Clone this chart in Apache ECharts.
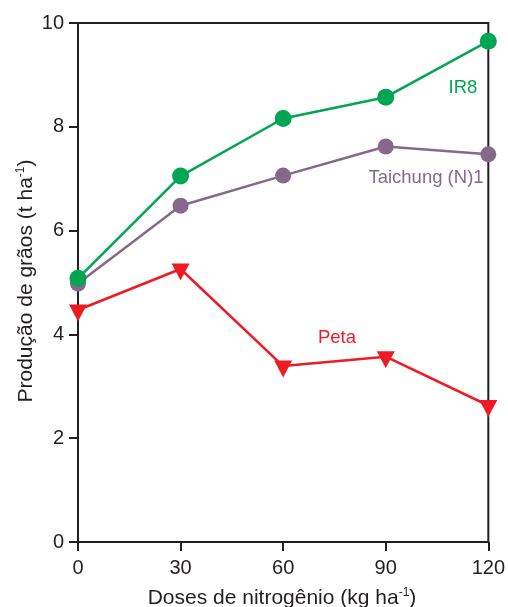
<!DOCTYPE html>
<html>
<head>
<meta charset="utf-8">
<script src="https://cdn.jsdelivr.net/npm/echarts@6/dist/echarts.min.js"></script>
<style>html,body{margin:0;padding:0;background:#fff}#c{width:508px;height:607px}</style>
</head>
<body>
<div id="c"></div>
<script>
var doses = [0, 30, 60, 90, 120];
var ir8 = [5.08, 7.05, 8.16, 8.57, 9.65];
var taichung = [4.98, 6.48, 7.06, 7.62, 7.47];
var peta = [4.47, 5.26, 3.39, 3.57, 2.63];
var xTicks = [0, 30, 60, 90, 120];
var yTicks = [0, 2, 4, 6, 8, 10];

var FONT = '"Liberation Sans", Arial, sans-serif';
var INK = '#231f20';
var GREEN = '#00a651';
var PURPLE = '#86698a';
var RED = '#ed1c24';

function pairs(v) { return doses.map(function (d, i) { return [d, v[i]]; }); }

var chart = echarts.init(document.getElementById('c'), null, {renderer: 'canvas'});
chart.setOption({
  animation: false,
  backgroundColor: '#fff',
  textStyle: {fontFamily: FONT},
  grid: {left: 78, right: 17, top: 23, bottom: 65, show: true, borderColor: INK, borderWidth: 2, backgroundColor: 'transparent'},
  xAxis: {
    type: 'value', min: xTicks[0], max: xTicks[xTicks.length - 1], interval: 30,
    splitLine: {show: false},
    axisLine: {lineStyle: {color: INK, width: 2}},
    axisTick: {show: true, inside: false, length: 9, lineStyle: {color: INK, width: 2}},
    axisLabel: {color: INK, fontSize: 20, fontFamily: FONT, margin: 16}
  },
  yAxis: {
    type: 'value', min: yTicks[0], max: yTicks[yTicks.length - 1], interval: 2,
    splitLine: {show: false},
    axisLine: {show: true, lineStyle: {color: INK, width: 2}},
    axisTick: {show: true, inside: false, length: 9, lineStyle: {color: INK, width: 2}},
    axisLabel: {color: INK, fontSize: 20, fontFamily: FONT, margin: 14}
  },
  graphic: [
    {type: 'text', x: 26, y: 281, rotation: Math.PI / 2, style: {
      text: 'Produção de grãos (t ha{sup|-1})', fill: INK, font: '21px ' + FONT,
      align: 'center', verticalAlign: 'middle',
      rich: {sup: {fontSize: 12, fill: INK, padding: [0, 0, 10, 0], fontFamily: FONT}}
    }},
    {type: 'text', x: 282, y: 598, style: {
      text: 'Doses de nitrogênio (kg ha{sup|-1})', fill: INK, font: '21px ' + FONT,
      align: 'center', verticalAlign: 'middle',
      rich: {sup: {fontSize: 12, fill: INK, padding: [0, 0, 10, 0], fontFamily: FONT}}
    }},
    {type: 'text', x: 463, y: 88, style: {text: 'IR8', fill: GREEN, font: '18.5px ' + FONT, align: 'center', verticalAlign: 'middle'}},
    {type: 'text', x: 426, y: 178, style: {text: 'Taichung (N)1', fill: PURPLE, font: '18.5px ' + FONT, align: 'center', verticalAlign: 'middle'}},
    {type: 'text', x: 337, y: 338, style: {text: 'Peta', fill: RED, font: '18.5px ' + FONT, align: 'center', verticalAlign: 'middle'}}
  ],
  series: [
    {name: 'Peta', type: 'line', data: pairs(peta), clip: false, z: 3,
      symbol: 'triangle', symbolRotate: 180, symbolSize: [18, 17], symbolOffset: [0, 3],
      lineStyle: {color: RED, width: 2.5}, itemStyle: {color: RED}},
    {name: 'Taichung (N)1', type: 'line', data: pairs(taichung), clip: false, z: 4,
      symbol: 'circle', symbolSize: 16,
      lineStyle: {color: PURPLE, width: 2.5}, itemStyle: {color: PURPLE}},
    {name: 'IR8', type: 'line', data: pairs(ir8), clip: false, z: 5,
      symbol: 'circle', symbolSize: 17,
      lineStyle: {color: GREEN, width: 2.5}, itemStyle: {color: GREEN}}
  ]
});
</script>
</body>
</html>
